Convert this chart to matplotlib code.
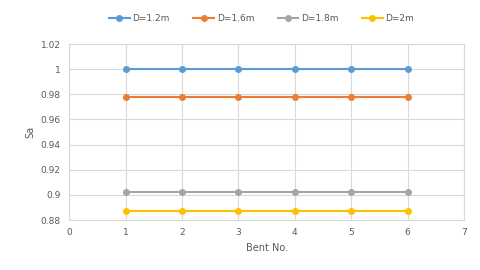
import matplotlib.pyplot as plt
from matplotlib.ticker import FuncFormatter

bents = [1, 2, 3, 4, 5, 6]
sa_12 = [1.0, 1.0, 1.0, 1.0, 1.0, 1.0]
sa_16 = [0.978, 0.978, 0.978, 0.978, 0.978, 0.978]
sa_18 = [0.902, 0.902, 0.902, 0.902, 0.902, 0.902]
sa_20 = [0.887, 0.887, 0.887, 0.887, 0.887, 0.887]
labels = ['D=1.2m', 'D=1.6m', 'D=1.8m', 'D=2m']
colors = ['#5B9BD5', '#ED7D31', '#A5A5A5', '#FFC000']

fig = plt.figure(figsize=(4.8, 2.7), dpi=100)
ax = fig.add_axes([0.144, 0.185, 0.823, 0.652])

for ys, lab, c in zip([sa_12, sa_16, sa_18, sa_20], labels, colors):
    ax.plot(bents, ys, color=c, marker='o', markersize=4, linewidth=1.5, label=lab)

ax.set_xlim(0, 7)
ax.set_ylim(0.88, 1.02)
ax.set_xticks(range(0, 8))
ax.set_yticks([0.88 + 0.02 * i for i in range(8)])
ax.yaxis.set_major_formatter(FuncFormatter(lambda v, p: ('%.2f' % v).rstrip('0').rstrip('.')))
ax.grid(True, color='#D9D9D9', linewidth=0.8)
ax.set_axisbelow(True)
for s in ax.spines.values():
    s.set_color('#D9D9D9')
ax.tick_params(length=0, labelsize=6.5, labelcolor='#595959', pad=6)
ax.set_xlabel('Bent No.', fontsize=7, color='#595959')
ax.set_ylabel('Sa', fontsize=7, color='#595959')

fig.legend(loc='center', bbox_to_anchor=(0.545, 0.93), ncol=4, frameon=False,
           fontsize=6.5, labelcolor='#595959', handlelength=2.3, columnspacing=2.6,
           handletextpad=0.3)

plt.savefig('out.png', dpi=100)
